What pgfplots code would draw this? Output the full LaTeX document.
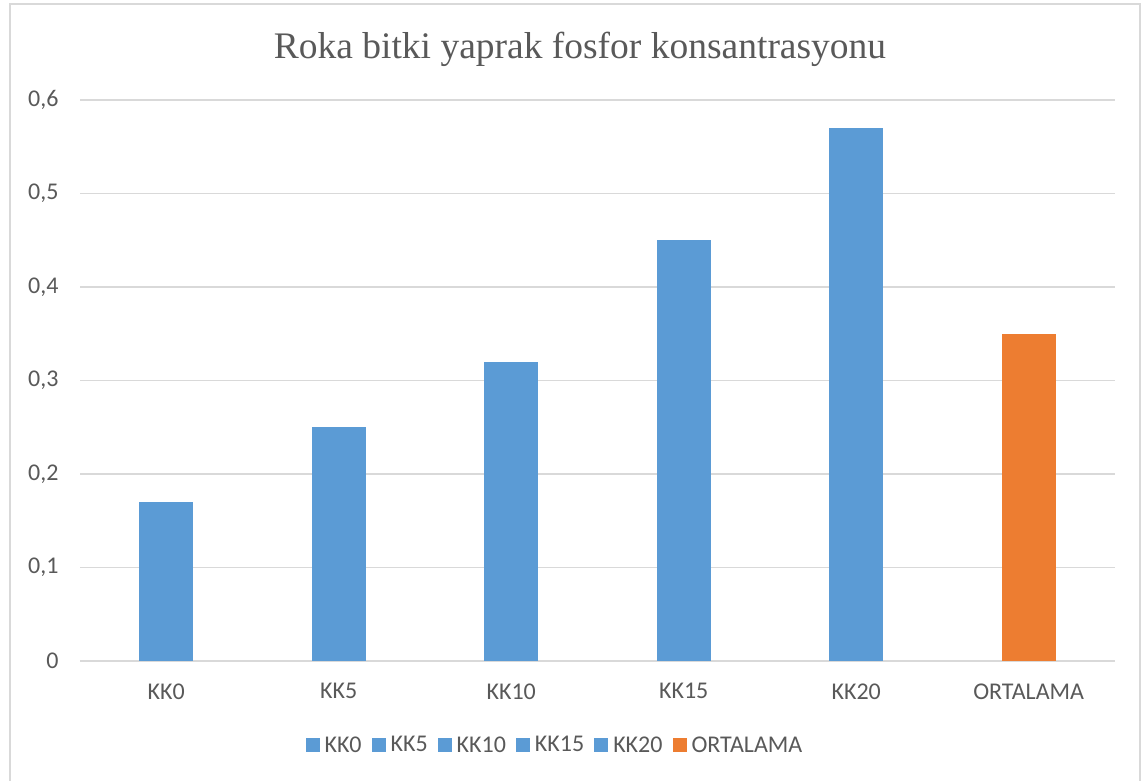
\documentclass[border=0pt]{standalone}
\usepackage{pgfplots}
\pgfplotsset{compat=1.18}
\usepackage{fontspec}
\setmainfont{Carlito}
\newfontfamily\titlefont{Liberation Serif}
\definecolor{cblue}{HTML}{5B9BD5}
\definecolor{corange}{HTML}{ED7D31}
\definecolor{tgrey}{HTML}{595959}
\definecolor{ggrey}{HTML}{D9D9D9}
\begin{document}
\begin{tikzpicture}[x=1pt,y=1pt]
\path[use as bounding box] (0,0) rectangle (1145,-781);
\draw[ggrey, line width=1.5pt] (10,-790) -- (10,-4) -- (1140,-4) -- (1140,-790);
\node[font=\titlefont\fontsize{37.5}{42}\selectfont, text=tgrey] at (580,-49) {Roka bitki yaprak fosfor konsantrasyonu};
\begin{axis}[
  at={(80pt,-661pt)}, anchor=south west,
  width=1035pt, height=561pt, scale only axis,
  xmin=-0.5, xmax=5.5, ymin=0, ymax=0.6,
  axis line style={draw=none},
  major tick length=0pt,
  ymajorgrids, grid style={ggrey, line width=1.4pt},
  xtick={0,1,2,3,4,5},
  xticklabels={KK0,KK5,KK10,KK15,KK20,ORTALAMA},
  ytick={0,0.1,0.2,0.3,0.4,0.5,0.6},
  yticklabels={0,{0,1},{0,2},{0,3},{0,4},{0,5},{0,6}},
  tick label style={font=\fontsize{24}{28}\selectfont, text=tgrey},
  xticklabel style={yshift=-19pt},
  yticklabel style={xshift=-18pt},
  ybar, bar width=54pt, bar shift=0pt,
  legend columns=6,
  legend style={at={(0.4589,-0.1497)}, anchor=center, draw=none, fill=none,
    font=\fontsize{24}{28}\selectfont, text=tgrey,
    /tikz/every odd column/.append style={column sep=3pt},
    /tikz/every even column/.append style={column sep=8pt},
    inner sep=0pt},
  legend image code/.code={\path[#1] (0pt,-7pt) rectangle (14pt,7pt);},
]
\addplot[fill=cblue, draw=none] coordinates {(0,0.17)}; \addlegendentry{KK0}
\addplot[fill=cblue, draw=none] coordinates {(1,0.25)}; \addlegendentry{KK5}
\addplot[fill=cblue, draw=none] coordinates {(2,0.32)}; \addlegendentry{KK10}
\addplot[fill=cblue, draw=none] coordinates {(3,0.45)}; \addlegendentry{KK15}
\addplot[fill=cblue, draw=none] coordinates {(4,0.57)}; \addlegendentry{KK20}
\addplot[fill=corange, draw=none] coordinates {(5,0.35)}; \addlegendentry{ORTALAMA}
\end{axis}
\end{tikzpicture}
\end{document}
